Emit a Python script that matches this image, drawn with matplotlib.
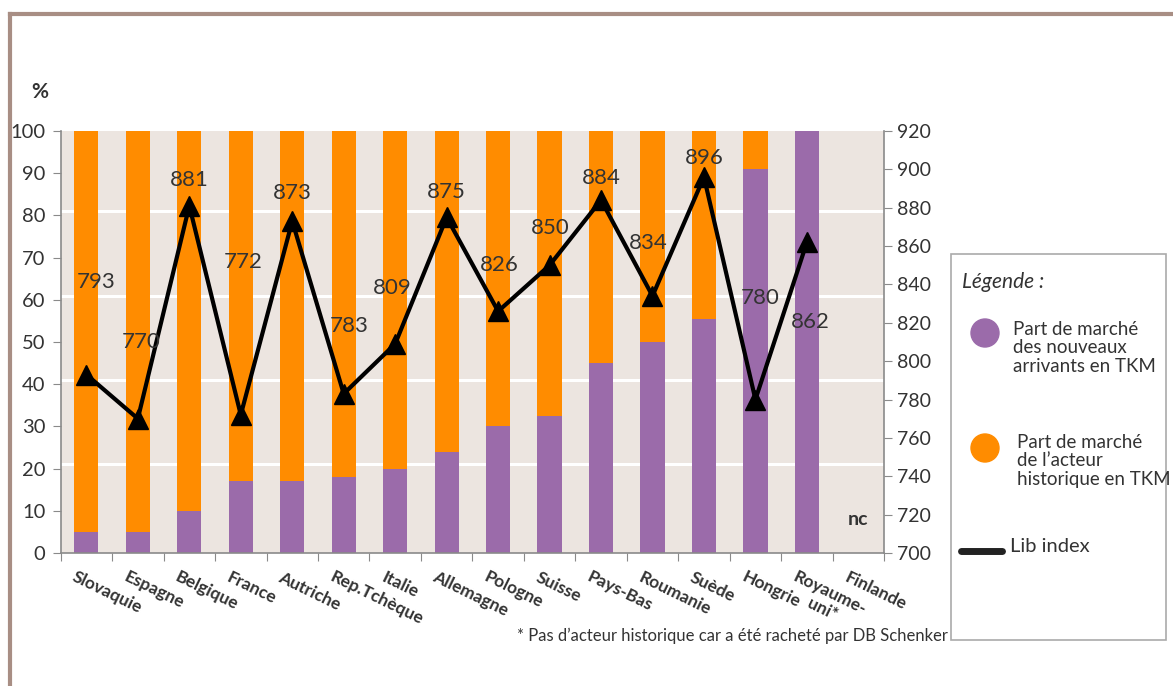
import numpy as np
import matplotlib
matplotlib.use("Agg")
import matplotlib.pyplot as plt
from matplotlib.patches import Ellipse, Rectangle
from matplotlib.lines import Line2D

plt.rcParams["font.family"] = ["Lato", "DejaVu Sans"]

countries = ["Slovaquie", "Espagne", "Belgique", "France", "Autriche", "Rep.Tchèque",
             "Italie", "Allemagne", "Pologne", "Suisse", "Pays-Bas", "Roumanie",
             "Suède", "Hongrie", "Royaume-\nuni*", "Finlande"]
new_share = [5, 5, 10, 17, 17, 18, 20, 24, 30, 32.5, 45, 50, 55.5, 91, 100, 0]
hist_share = [95, 95, 90, 83, 83, 82, 80, 76, 70, 67.5, 55, 50, 44.5, 9, 0, 0]
lib_index = [793, 770, 881, 772, 873, 783, 809, 875, 826, 850, 884, 834, 896, 780, 862]

# label offsets (pixels) relative to the markers
lab_dx = [10, 3, 0, 2, 0, 5, -3, 0, 1, 1, 0, -4, 0, 5, 3]
lab_dy = [93, 77, 26, 153, 28, 68, 56, 25, 46, 37, 22, 53, 19, 102, -80]

purple = "#9B6BAA"
orange = "#FF8C00"
bg = "#ECE5E0"
axcol = "#8A8A8A"
txt = "#333333"

fig = plt.figure(figsize=(11.73, 6.86), dpi=100)
ax = fig.add_axes([0.0517, 0.194, 0.702, 0.615])
ax.set_facecolor(bg)

x = np.arange(len(countries))
for g in [21, 41, 61, 81]:
    ax.axhline(g, color="white", lw=2.2, zorder=1)
ax.bar(x, new_share, width=0.47, color=purple, zorder=2)
ax.bar(x, hist_share, bottom=new_share, width=0.47, color=orange, zorder=2)

ax.set_xlim(-0.5, len(countries) - 0.5)
ax.set_ylim(0, 100)
ax.set_yticks(range(0, 101, 10))
ax.set_xticks(np.arange(-0.5, len(countries)))
ax.set_xticklabels([])
ax.tick_params(axis="y", direction="out", length=6, color=axcol, labelsize=14.5, labelcolor=txt, pad=5)
ax.tick_params(axis="x", direction="out", length=6, color=axcol)
for s in ["top", "right"]:
    ax.spines[s].set_visible(False)
for s in ["left", "bottom"]:
    ax.spines[s].set_color(axcol)
    ax.spines[s].set_linewidth(1.2)

for i, c in enumerate(countries):
    ax.text(i - 0.18, -3.8, c, rotation=-26, rotation_mode="anchor", ha="left", va="top",
            multialignment="center", fontsize=12.5, fontweight="bold", color=txt, linespacing=1.1)

ax.text(15, 8, "nc", ha="center", va="center", fontsize=14, fontweight="bold", color=txt)

ax2 = ax.twinx()
ax2.set_ylim(700, 920)
ax2.set_yticks(range(700, 921, 20))
ax2.tick_params(axis="y", direction="out", length=6, color=axcol, labelsize=14, labelcolor=txt, pad=3)
for s in ["top", "left", "bottom"]:
    ax2.spines[s].set_visible(False)
ax2.spines["right"].set_color(axcol)
ax2.spines["right"].set_linewidth(1.2)
ax2.plot(x[:len(lib_index)], lib_index, color="black", lw=3, marker="^", ms=14, zorder=5)
for i, v in enumerate(lib_index):
    ax2.annotate(str(v), (i, v), xytext=(lab_dx[i], lab_dy[i]), textcoords="offset pixels",
                 ha="center", va="center", fontsize=16, color=txt, zorder=6)

fig.text(40 / 1173, 1 - 92 / 686, "%", ha="center", va="center", fontsize=15, fontweight="bold", color=txt)
fig.text(732 / 1173, 1 - 636 / 686, "* Pas d’acteur historique car a été racheté par DB Schenker",
         ha="center", va="center", fontsize=12, color=txt)

# outer frame (top and left)
fig.add_artist(Line2D([10 / 1173, 10 / 1173], [0, 1 - 14 / 686], color="#A88E84", lw=3, transform=fig.transFigure))
fig.add_artist(Line2D([10 / 1173, 1], [1 - 14 / 686, 1 - 14 / 686], color="#A88E84", lw=3, transform=fig.transFigure))

# legend box
fig.add_artist(Rectangle((951 / 1173, 1 - 640 / 686), 215 / 1173, 386 / 686, fill=False,
                         edgecolor="#AAAAAA", lw=1.2, transform=fig.transFigure))
fig.text(962 / 1173, 1 - 282 / 686, "Légende :", ha="left", va="center", fontsize=15, style="italic", color=txt)
fig.add_artist(Ellipse((985 / 1173, 1 - 333 / 686), 28 / 1173, 28 / 686, color=purple, transform=fig.transFigure))
fig.text(1013 / 1173, 1 - 321 / 686, "Part de marché\ndes nouveaux\narrivants en TKM", ha="left", va="top",
         fontsize=13.5, color=txt, linespacing=1.1)
fig.add_artist(Ellipse((985 / 1173, 1 - 448 / 686), 28 / 1173, 28 / 686, color=orange, transform=fig.transFigure))
fig.text(1017 / 1173, 1 - 434 / 686, "Part de marché\nde l’acteur\nhistorique en TKM", ha="left", va="top",
         fontsize=13.5, color=txt, linespacing=1.1)
fig.add_artist(Line2D([961 / 1173, 1002 / 1173], [1 - 551 / 686, 1 - 551 / 686], color="#222222", lw=5,
                      solid_capstyle="round", transform=fig.transFigure))
fig.text(1010 / 1173, 1 - 546 / 686, "Lib index", ha="left", va="center", fontsize=14.5, color=txt)

fig.savefig("out.png", dpi=100)
